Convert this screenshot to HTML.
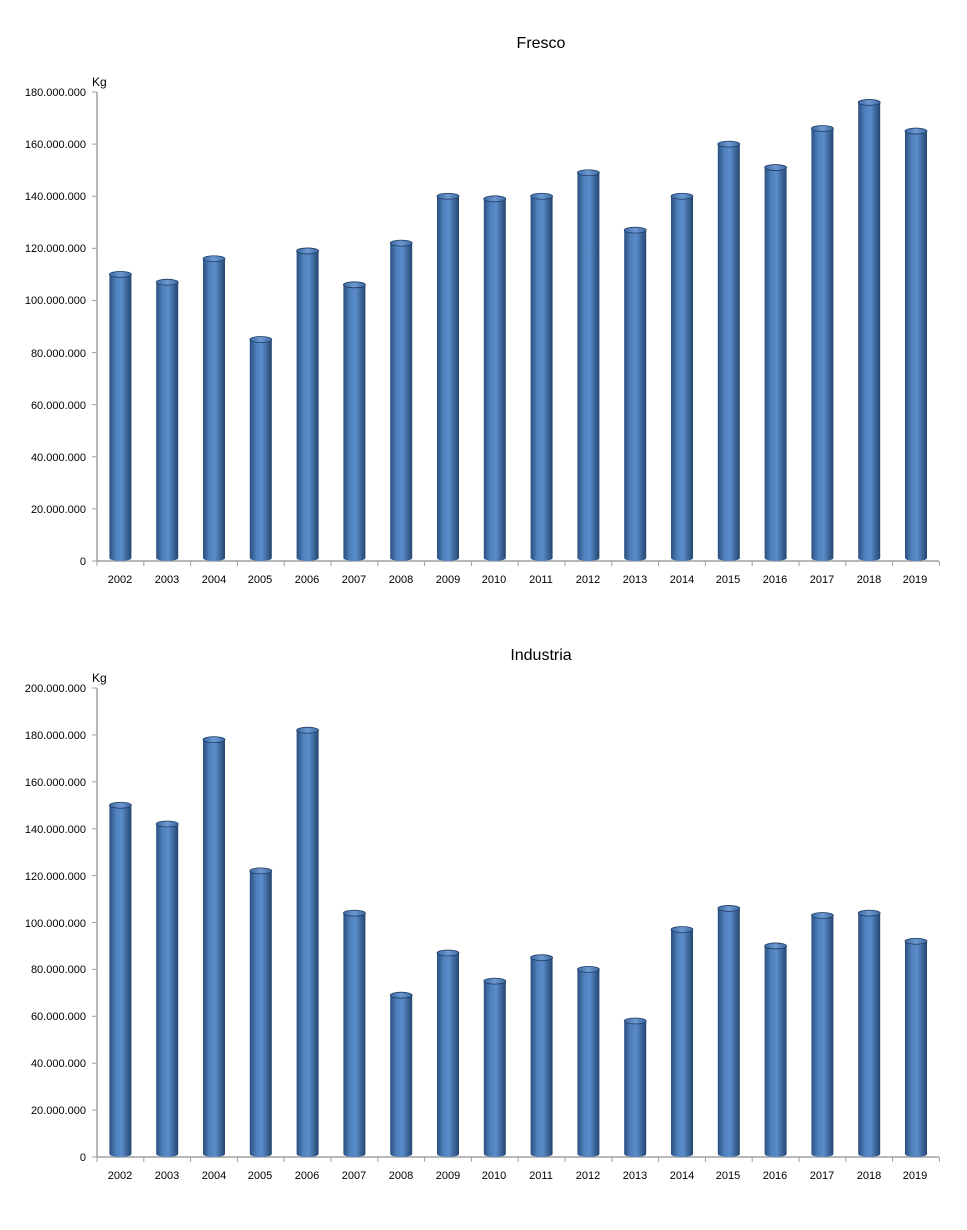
<!DOCTYPE html>
<html><head><meta charset="utf-8"><style>
body{margin:0;background:#fff;}
svg{display:block;font-family:"Liberation Sans",sans-serif;}
text{font-size:11px;fill:#000;}
</style></head><body>
<svg id="s" width="967" height="1230" viewBox="0 0 967 1230">
<defs>
<linearGradient id="g" x1="0" x2="1" y1="0" y2="0">
<stop offset="0" stop-color="#2a4f80"/>
<stop offset="0.3" stop-color="#4f81bd"/>
<stop offset="0.55" stop-color="#5b8ccb"/>
<stop offset="1" stop-color="#23466f"/>
</linearGradient>
<linearGradient id="gt" x1="0" x2="1" y1="0" y2="0">
<stop offset="0" stop-color="#3d6aa3"/>
<stop offset="0.5" stop-color="#6d98d0"/>
<stop offset="1" stop-color="#3d6aa3"/>
</linearGradient>
</defs>
<text x="541" y="48" text-anchor="middle" style="font-size:16px">Fresco</text>
<text x="92" y="86" style="font-size:12px">Kg</text>
<g text-anchor="end">
<text x="86" y="96">180.000.000</text><text x="86" y="148">160.000.000</text><text x="86" y="200">140.000.000</text>
<text x="86" y="252">120.000.000</text><text x="86" y="304">100.000.000</text><text x="86" y="357">80.000.000</text>
<text x="86" y="409">60.000.000</text><text x="86" y="461">40.000.000</text><text x="86" y="513">20.000.000</text>
<text x="86" y="565">0</text>
</g>
<text x="541" y="660" text-anchor="middle" style="font-size:16px">Industria</text>
<text x="92" y="682" style="font-size:12px">Kg</text>
<g text-anchor="end">
<text x="86" y="692">200.000.000</text><text x="86" y="739">180.000.000</text><text x="86" y="786">160.000.000</text>
<text x="86" y="833">140.000.000</text><text x="86" y="880">120.000.000</text><text x="86" y="927">100.000.000</text>
<text x="86" y="973">80.000.000</text><text x="86" y="1020">60.000.000</text><text x="86" y="1067">40.000.000</text>
<text x="86" y="1114">20.000.000</text><text x="86" y="1161">0</text>
</g>
<g text-anchor="middle">
<text x="120" y="583">2002</text><text x="167" y="583">2003</text><text x="214" y="583">2004</text><text x="260" y="583">2005</text><text x="307" y="583">2006</text><text x="354" y="583">2007</text><text x="401" y="583">2008</text><text x="448" y="583">2009</text><text x="494" y="583">2010</text><text x="541" y="583">2011</text><text x="588" y="583">2012</text><text x="635" y="583">2013</text><text x="682" y="583">2014</text><text x="728" y="583">2015</text><text x="775" y="583">2016</text><text x="822" y="583">2017</text><text x="869" y="583">2018</text><text x="915" y="583">2019</text>
<text x="120" y="1179">2002</text><text x="167" y="1179">2003</text><text x="214" y="1179">2004</text><text x="260" y="1179">2005</text><text x="307" y="1179">2006</text><text x="354" y="1179">2007</text><text x="401" y="1179">2008</text><text x="448" y="1179">2009</text><text x="494" y="1179">2010</text><text x="541" y="1179">2011</text><text x="588" y="1179">2012</text><text x="635" y="1179">2013</text><text x="682" y="1179">2014</text><text x="728" y="1179">2015</text><text x="775" y="1179">2016</text><text x="822" y="1179">2017</text><text x="869" y="1179">2018</text><text x="915" y="1179">2019</text>
</g>
<g id="bars"></g>
</svg>
<script>
var NS="http://www.w3.org/2000/svg",g=document.getElementById('bars');
function el(t,a){var e=document.createElementNS(NS,t);for(var k in a)e.setAttribute(k,a[k]);g.appendChild(e);return e;}
function chart(y0,ytop,max,step,vals){
 var sc=(y0-ytop)/max;
 el('line',{x1:97,y1:ytop,x2:97,y2:y0,stroke:'#a0a0a0','stroke-width':1.5});
 el('line',{x1:97,y1:y0,x2:939,y2:y0,stroke:'#a0a0a0','stroke-width':1.5});
 for(var v=0;v<=max;v+=step){var y=y0-v*sc;el('line',{x1:92,y1:y,x2:97,y2:y,stroke:'#a0a0a0'});}
 for(var i=0;i<=18;i++){var x=97+i*46.8;el('line',{x1:x,y1:y0,x2:x,y2:y0+5,stroke:'#a0a0a0'});}
 vals.forEach(function(v,i){
  var cx=120.4+i*46.8,w=22,top=y0-v*sc;
  el('path',{d:'M'+(cx-w/2)+' '+top+' L'+(cx-w/2)+' '+(y0-3)+' A'+w/2+' 3 0 0 0 '+(cx+w/2)+' '+(y0-3)+' L'+(cx+w/2)+' '+top+' Z',fill:'url(#g)'});
  el('ellipse',{cx:cx,cy:top,rx:w/2,ry:3,fill:'url(#gt)',stroke:'#1f3d63','stroke-width':0.8});
 });
}
chart(561,92,180,20,[110,107,116,85,119,106,122,140,139,140,149,127,140,160,151,166,176,165]);
chart(1157,688,200,20,[150,142,178,122,182,104,69,87,75,85,80,58,97,106,90,103,104,92]);
</script>
</body></html>
